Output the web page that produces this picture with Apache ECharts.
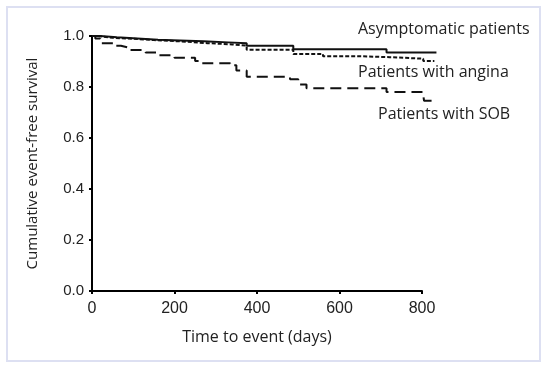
<!DOCTYPE html>
<html>
<head>
<meta charset="utf-8">
<script src="https://cdn.jsdelivr.net/npm/echarts@6/dist/echarts.min.js"></script>
<style>
html,body{margin:0;padding:0;background:#fff;}
#frame{position:absolute;left:6px;top:6px;width:531px;height:352px;border:2px solid #dde0f2;}
#chart{position:absolute;left:0;top:0;width:550px;height:370px;}
</style>
</head>
<body>
<div id="frame"></div>
<div id="chart"></div>
<script>
// Kaplan-Meier step data: [time (days), survival]
const asymptomatic = [[0,1.0],[20,0.995],[60,0.99],[110,0.985],[160,0.982],[213,0.979],[270,0.975],[330,0.972],[375,0.962],[488,0.948],[714,0.935],[835,0.935]];
const angina = [[0,1.0],[15,0.993],[50,0.989],[100,0.984],[150,0.979],[213,0.972],[280,0.967],[340,0.962],[375,0.946],[488,0.929],[560,0.921],[640,0.917],[722,0.911],[803,0.902],[830,0.902]];
const sob = [[0,1.0],[8,0.99],[20,0.972],[56,0.962],[70,0.955],[88,0.945],[130,0.935],[160,0.925],[200,0.915],[250,0.902],[260,0.893],[335,0.885],[350,0.865],[375,0.84],[480,0.83],[500,0.81],[520,0.795],[714,0.78],[803,0.768],[805,0.746],[827,0.746]];
const xTicks = [0,200,400,600,800];
const seriesNames = ['Asymptomatic patients','Patients with angina','Patients with SOB'];
const xTitle = 'Time to event (days)';
const yTitle = 'Cumulative event-free survival';

const chart = echarts.init(document.getElementById('chart'));
const txt = '#222';
const xMax = 800, xMaxData = 850;
const plotW = 330;
chart.setOption({
  animation:false,
  grid:[
    {left:92,top:36,bottom:79,width:plotW},
    {left:92,top:36,bottom:79,width:plotW*xMaxData/xMax}
  ],
  xAxis:[
    {gridIndex:0,type:'value',min:0,max:xMax,interval:200,
    name:xTitle,nameLocation:'middle',nameGap:38,
    nameTextStyle:{fontFamily:'Open Sans',fontSize:16,color:txt},
    axisLine:{lineStyle:{color:'#000',width:2}},
    axisTick:{show:true,length:3,lineStyle:{color:'#000',width:2}},
    axisLabel:{fontFamily:'Liberation Sans',fontSize:16,color:txt,margin:10},
    splitLine:{show:false}},
    {gridIndex:1,type:'value',min:0,max:xMaxData,show:false,splitLine:{show:false}}
  ],
  yAxis:[
    {gridIndex:0,type:'value',min:0,max:1,interval:0.2,
    name:yTitle,nameLocation:'middle',nameGap:52,
    nameTextStyle:{fontFamily:'Open Sans',fontSize:15,color:txt},
    axisLine:{show:true,lineStyle:{color:'#000',width:2}},
    axisTick:{show:true,length:3,lineStyle:{color:'#000',width:2}},
    axisLabel:{fontFamily:'Liberation Sans',fontSize:15,color:txt,margin:8,formatter:v=>v.toFixed(1)},
    splitLine:{show:false}},
    {gridIndex:1,type:'value',min:0,max:1,show:false,splitLine:{show:false}}
  ],
  series:[
    {name:seriesNames[0],type:'line',step:'end',xAxisIndex:1,yAxisIndex:1,data:asymptomatic,symbol:'none',
     lineStyle:{color:'#111',width:2,type:'solid'}},
    {name:seriesNames[1],type:'line',step:'end',xAxisIndex:1,yAxisIndex:1,data:angina,symbol:'none',
     lineStyle:{color:'#111',width:2,type:[4,2]}},
    {name:seriesNames[2],type:'line',step:'end',xAxisIndex:1,yAxisIndex:1,data:sob,symbol:'none',
     lineStyle:{color:'#111',width:2,type:[11,6]}}
  ],
  graphic:[
    {type:'text',left:358,top:21,style:{text:seriesNames[0],font:'16px "Open Sans"',fill:txt}},
    {type:'text',left:358,top:64,style:{text:seriesNames[1],font:'16px "Open Sans"',fill:txt}},
    {type:'text',left:378,top:106,style:{text:seriesNames[2],font:'16px "Open Sans"',fill:txt}}
  ]
});
</script>
</body>
</html>
